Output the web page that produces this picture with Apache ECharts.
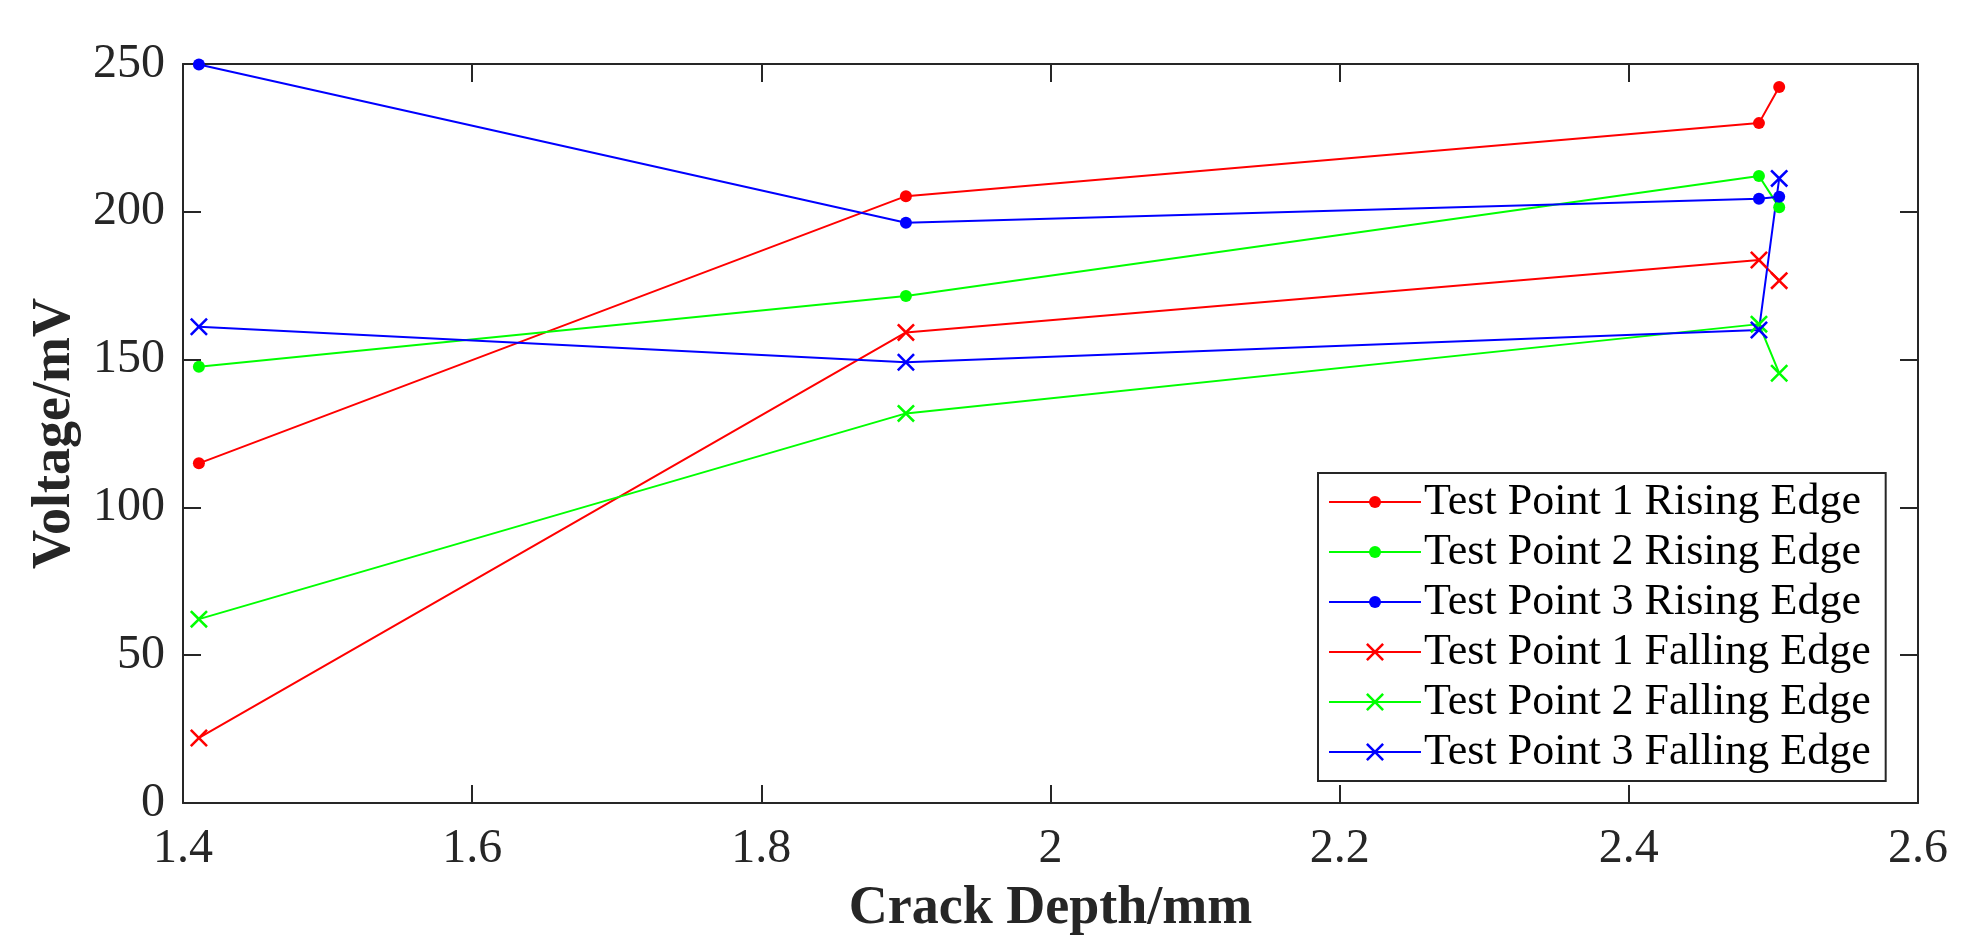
<!DOCTYPE html>
<html>
<head>
<meta charset="utf-8">
<script src="https://cdn.jsdelivr.net/npm/echarts@6/dist/echarts.min.js"></script>
<style>
html,body{margin:0;padding:0;background:#fff;}
#chart{width:1977px;height:950px;}
</style>
</head>
<body>
<div id="chart"></div>
<script>
const crackDepth = [1.411, 1.9, 2.49, 2.504];
const seriesNames = [
  'Test Point 1 Rising Edge',
  'Test Point 2 Rising Edge',
  'Test Point 3 Rising Edge',
  'Test Point 1 Falling Edge',
  'Test Point 2 Falling Edge',
  'Test Point 3 Falling Edge'
];
const tp1Rising = [114.9, 205.3, 230.0, 242.2];
const tp2Rising = [147.6, 171.5, 212.1, 201.5];
const tp3Rising = [249.8, 196.3, 204.4, 205.1];
const tp1Falling = [22.0, 159.2, 183.7, 176.7];
const tp2Falling = [62.2, 131.8, 162.0, 145.4];
const tp3Falling = [161.1, 149.1, 160.0, 211.3];
const xTicks = [1.4, 1.6, 1.8, 2, 2.2, 2.4, 2.6];
const yTicks = [0, 50, 100, 150, 200, 250];

const allValues = [tp1Rising, tp2Rising, tp3Rising, tp1Falling, tp2Falling, tp3Falling];
const colors = ['#ff0000', '#00ff00', '#0000ff', '#ff0000', '#00ff00', '#0000ff'];
// padded symbol paths (20x20 frame) so one size fits both plot and legend
const dotPath = 'path://M0,0 M20,20 M10,4 A6,6 0 1,1 10,16 A6,6 0 1,1 10,4 Z';
const xPath = 'path://M0,0 M20,20 M1,2.8 L2.8,1 L10,8.2 L17.2,1 L19,2.8 L11.8,10 L19,17.2 L17.2,19 L10,11.8 L2.8,19 L1,17.2 L8.2,10 Z';
const FONT = 'Liberation Serif';
const AX = '#262626';

const series = allValues.map((vals, i) => ({
  name: seriesNames[i],
  type: 'line',
  xAxisIndex: 0,
  yAxisIndex: 0,
  data: vals.map((v, j) => [crackDepth[j], v]),
  symbol: i < 3 ? dotPath : xPath,
  symbolSize: 20,
  showAllSymbol: true,
  lineStyle: { color: colors[i], width: 2 },
  itemStyle: { color: colors[i], borderWidth: 0 },
  emphasis: { disabled: true },
  z: 3
}));

const axisCommon = {
  axisLine: { show: true, onZero: false, lineStyle: { color: AX, width: 2 } },
  axisTick: { show: true, inside: true, length: 18, lineStyle: { color: AX, width: 2 } },
  splitLine: { show: false }
};

const option = {
  animation: false,
  backgroundColor: '#ffffff',
  grid: { left: 183, top: 64, right: 59, bottom: 147, containLabel: false },
  xAxis: [
    Object.assign({}, axisCommon, {
      type: 'value', position: 'bottom', min: xTicks[0], max: xTicks[xTicks.length - 1], interval: 0.2,
      name: 'Crack Depth/mm', nameLocation: 'middle', nameGap: 79,
      nameTextStyle: { fontFamily: FONT, fontSize: 54, fontWeight: 'bold', color: AX },
      axisLabel: { margin: 22, fontFamily: FONT, fontSize: 48, color: AX,
        formatter: v => String(Math.round(v * 10) / 10) }
    }),
    Object.assign({}, axisCommon, {
      type: 'value', position: 'top', min: xTicks[0], max: xTicks[xTicks.length - 1], interval: 0.2,
      axisLabel: { show: false }
    })
  ],
  yAxis: [
    Object.assign({}, axisCommon, {
      type: 'value', position: 'left', min: yTicks[0], max: yTicks[yTicks.length - 1], interval: 50,
      name: 'Voltage/mV', nameLocation: 'middle', nameGap: 88,
      nameTextStyle: { fontFamily: FONT, fontSize: 54, fontWeight: 'bold', color: AX },
      axisLabel: { margin: 18, fontFamily: FONT, fontSize: 48, color: AX }
    }),
    Object.assign({}, axisCommon, {
      type: 'value', position: 'right', min: yTicks[0], max: yTicks[yTicks.length - 1], interval: 50,
      axisLabel: { show: false }
    })
  ],
  legend: {
    orient: 'vertical',
    left: 1318,
    top: 473,
    data: seriesNames,
    itemWidth: 92,
    itemHeight: 25,
    itemGap: 6,
    padding: [7, 15, 7, 10],
    borderColor: AX,
    borderWidth: 2,
    backgroundColor: '#ffffff',
    textStyle: { fontFamily: FONT, fontSize: 44, color: '#000000', padding: [0, 0, 0, -2] },
    selectedMode: false
  },
  series: series
};

const chart = echarts.init(document.getElementById('chart'), null, { renderer: 'canvas' });
chart.setOption(option);
</script>
</body>
</html>
